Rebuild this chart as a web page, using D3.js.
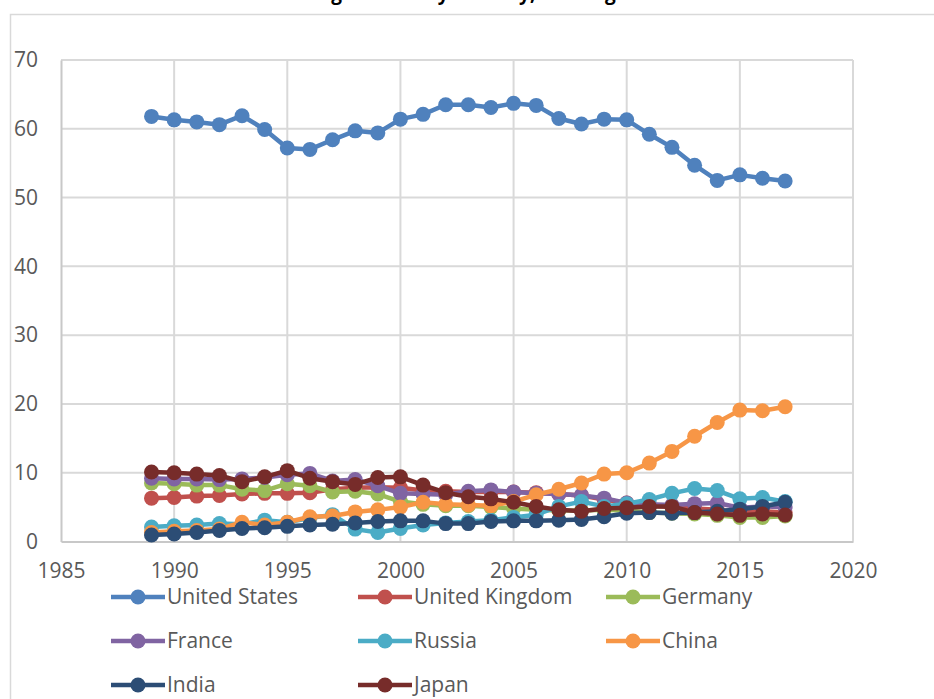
<!DOCTYPE html>
<html>
<head>
<meta charset="utf-8">
<script src="https://cdn.jsdelivr.net/npm/d3@7"></script>
<style>
  html, body { margin: 0; padding: 0; background: #fff; }
  svg { display: block; }
  text { font-family: "Open Sans", "Noto Sans", sans-serif; }
</style>
</head>
<body>
<svg id="chart" width="934" height="699"></svg>
<script>
// Share of combined military spending of eight countries, 1989–2017 (%)
const years = d3.range(1989, 2018);

const unitedStates = [61.8, 61.3, 61.0, 60.6, 61.9, 59.9, 57.2, 57.0, 58.4, 59.7, 59.4, 61.4, 62.1, 63.5, 63.5, 63.1, 63.7, 63.4, 61.5, 60.7, 61.4, 61.3, 59.2, 57.3, 54.7, 52.5, 53.3, 52.8, 52.4];
const unitedKingdom = [6.3, 6.4, 6.6, 6.7, 6.9, 7.0, 7.0, 7.1, 7.6, 7.8, 7.9, 7.8, 7.4, 7.3, 7.2, 7.2, 7.2, 7.1, 6.9, 6.7, 6.1, 5.6, 5.2, 5.0, 4.8, 4.6, 4.3, 4.4, 4.2];
const germany = [8.5, 8.4, 8.2, 8.2, 7.6, 7.4, 8.4, 8.1, 7.2, 7.3, 6.9, 5.8, 5.4, 5.2, 5.2, 5.0, 4.8, 4.6, 4.5, 4.5, 4.6, 4.5, 4.2, 4.1, 4.0, 3.8, 3.5, 3.5, 3.7];
const france = [9.2, 9.1, 9.1, 9.0, 9.1, 9.3, 9.7, 9.9, 8.8, 9.0, 8.1, 7.0, 6.9, 6.8, 7.3, 7.5, 7.2, 7.0, 6.9, 6.7, 6.3, 5.6, 5.4, 5.3, 5.5, 5.6, 4.9, 5.1, 5.0];
const russia = [2.1, 2.3, 2.4, 2.6, 2.5, 3.1, 2.8, 3.4, 3.9, 1.8, 1.3, 1.9, 2.4, 2.7, 2.9, 3.1, 3.5, 3.9, 5.1, 5.8, 5.1, 5.5, 6.1, 7.0, 7.7, 7.4, 6.2, 6.4, 5.8];
const china = [1.3, 1.5, 1.6, 1.8, 2.8, 2.4, 2.8, 3.6, 3.7, 4.3, 4.6, 5.0, 5.7, 5.4, 5.3, 5.2, 5.8, 6.8, 7.6, 8.5, 9.8, 10.0, 11.4, 13.1, 15.3, 17.3, 19.1, 19.0, 19.6];
const india = [0.95, 1.1, 1.3, 1.6, 1.9, 2.0, 2.2, 2.4, 2.5, 2.7, 2.9, 3.0, 3.0, 2.6, 2.6, 2.9, 3.0, 3.0, 3.1, 3.2, 3.6, 4.1, 4.2, 4.1, 4.2, 4.4, 4.7, 5.1, 5.7];
const japan = [10.1, 10.0, 9.8, 9.6, 8.7, 9.4, 10.3, 9.2, 8.7, 8.3, 9.3, 9.4, 8.2, 7.1, 6.5, 6.2, 5.7, 5.1, 4.6, 4.4, 4.8, 4.9, 5.1, 5.1, 4.2, 4.0, 3.8, 4.0, 3.85];

const seriesNames = ["United States", "United Kingdom", "Germany", "France", "Russia", "China", "India", "Japan"];
const seriesValues = [unitedStates, unitedKingdom, germany, france, russia, china, india, japan];
const seriesColors = ["#4F81BD", "#C0504D", "#9BBB59", "#8064A2", "#4BACC6", "#F79646", "#2C4D75", "#772C2A"];

const xTicks = [1985, 1990, 1995, 2000, 2005, 2010, 2015, 2020];
const yTicks = [0, 10, 20, 30, 40, 50, 60, 70];
const titleText = "Budget Share by Country, % of Big 8";

const svg = d3.select("#chart");

// chart frame
svg.append("rect")
  .attr("x", 10.5).attr("y", 14.5)
  .attr("width", 1000).attr("height", 1000)
  .attr("fill", "#fff").attr("stroke", "#d9d9d9").attr("stroke-width", 1.5);

// title (sits above the frame, mostly above the page edge)
svg.append("text")
  .attr("x", 294).attr("y", 0)
  .attr("font-size", 19).attr("font-weight", "bold")
  .attr("fill", "#000")
  .text(titleText);

const x = d3.scaleLinear().domain([1985, 2020]).range([61, 853]);
const y = d3.scaleLinear().domain([0, 70]).range([541.5, 60]);

// gridlines
const grid = svg.append("g");
grid.selectAll(".hg").data(yTicks.filter(d => d > 0)).join("line")
  .attr("x1", x(1985)).attr("x2", x(2020))
  .attr("y1", d => y(d)).attr("y2", d => y(d))
  .attr("stroke", "#d9d9d9").attr("stroke-width", 2);
grid.selectAll(".vg").data(xTicks.filter(d => d > 1985)).join("line")
  .attr("x1", d => x(d)).attr("x2", d => x(d))
  .attr("y1", y(0)).attr("y2", y(70))
  .attr("stroke", "#d9d9d9").attr("stroke-width", 2);

// axes
const xAxis = d3.axisBottom(x).tickValues(xTicks).tickFormat(d3.format("d")).tickSize(0).tickPadding(22);
const yAxis = d3.axisLeft(y).tickValues(yTicks).tickSize(0).tickPadding(23);

const gx = svg.append("g").attr("transform", `translate(0,${y(0)})`).call(xAxis);
const gy = svg.append("g").attr("transform", `translate(${x(1985)},0)`).call(yAxis);
[gx, gy].forEach(g => {
  g.select(".domain").attr("stroke", "#c8c8c8").attr("stroke-width", 2);
  g.selectAll("text").attr("font-size", 21).attr("fill", "#595959")
    .attr("font-family", '"Open Sans", sans-serif');
});
gx.selectAll("text").attr("dy", "0.71em");

// series
const line = d3.line().x((d, i) => x(years[i])).y(d => y(d));
const plot = svg.append("g");
seriesValues.forEach((vals, k) => {
  const g = plot.append("g");
  g.append("path").datum(vals)
    .attr("d", line).attr("fill", "none")
    .attr("stroke", seriesColors[k]).attr("stroke-width", 4.5)
    .attr("stroke-linejoin", "round");
  g.selectAll("circle").data(vals).join("circle")
    .attr("cx", (d, i) => x(years[i])).attr("cy", d => y(d))
    .attr("r", 7.5).attr("fill", seriesColors[k]);
});

// legend
const legendCols = [111, 358, 606];
const legendRows = [597, 641, 685];
const legend = svg.append("g");
seriesNames.forEach((name, k) => {
  const lx = legendCols[k % 3], ly = legendRows[Math.floor(k / 3)];
  const item = legend.append("g").attr("transform", `translate(${lx},${ly})`);
  item.append("line").attr("x1", 0).attr("x2", 54).attr("y1", 0).attr("y2", 0)
    .attr("stroke", seriesColors[k]).attr("stroke-width", 4.5);
  item.append("circle").attr("cx", 27).attr("cy", 0).attr("r", 7.5).attr("fill", seriesColors[k]);
  item.append("text").attr("x", 56).attr("y", 0).attr("dy", "0.35em")
    .attr("font-size", 21).attr("fill", "#595959").text(name);
});
</script>
</body>
</html>
